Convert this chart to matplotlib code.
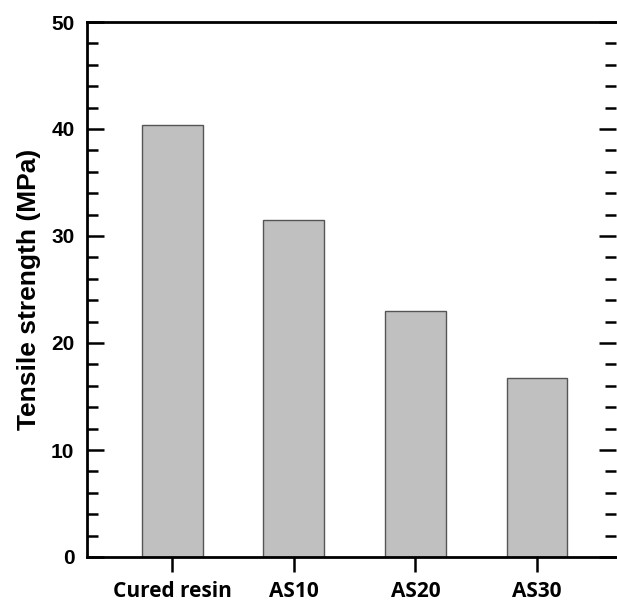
import matplotlib
matplotlib.use("Agg")
import matplotlib.pyplot as plt
from matplotlib.ticker import MultipleLocator

categories = ["Cured resin", "AS10", "AS20", "AS30"]
strength = [40.4, 31.5, 23.0, 16.7]

fig = plt.figure(figsize=(6.17, 6.02), dpi=100)
ax = fig.add_axes([87/617, 45/602, 529/617, 535/602])

x = list(range(len(categories)))
ax.bar(x, strength, width=0.5, color="#c0c0c0", edgecolor="#555555", linewidth=1.0, zorder=2)

ax.set_xlim(-0.7, 3.65)
ax.set_ylim(0, 50)
ax.yaxis.set_major_locator(MultipleLocator(10))
ax.yaxis.set_minor_locator(MultipleLocator(2))

for s in ax.spines.values():
    s.set_linewidth(2.0)
ax.spines["right"].set_visible(False)

ax.tick_params(axis="y", which="major", direction="in", length=12, width=1.8, right=True, left=True, pad=9)
ax.tick_params(axis="y", which="minor", direction="in", length=8, width=1.8, right=True, left=True)
ax.tick_params(axis="x", which="major", direction="out", length=11, width=1.8, pad=6)
ax.set_xticks(x)
ax.set_xticklabels(categories, fontsize=15, fontweight="bold", family=["Open Sans", "DejaVu Sans"])
for lab in ax.get_yticklabels():
    lab.set_fontsize(15)
    lab.set_fontweight("bold")
    lab.set_family(["Liberation Sans", "DejaVu Sans"])

ax.set_ylabel("Tensile strength (MPa)", fontsize=19, fontweight="bold",
              family=["Liberation Sans", "DejaVu Sans"], labelpad=7)

fig.savefig("out.png", dpi=100)
